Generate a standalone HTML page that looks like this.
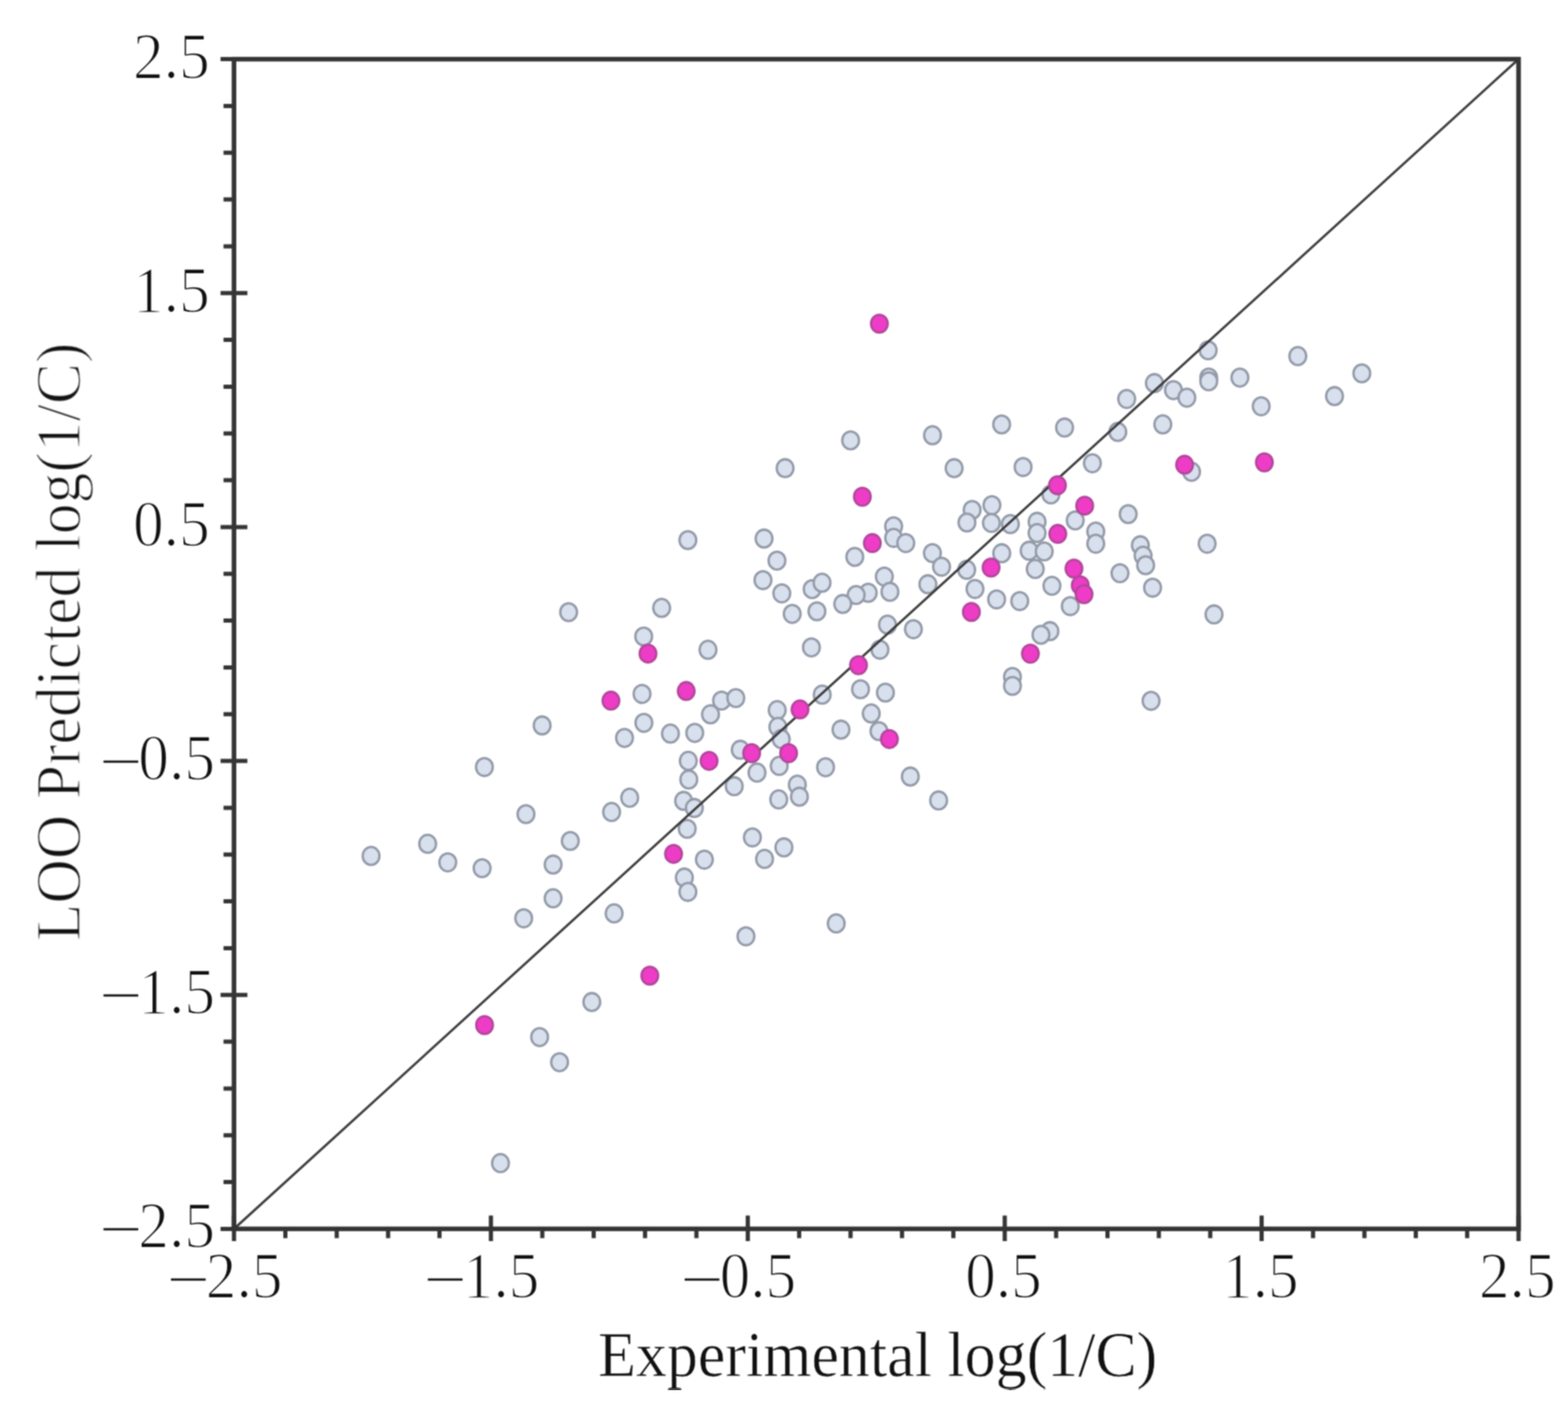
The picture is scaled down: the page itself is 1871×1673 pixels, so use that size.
<!DOCTYPE html>
<html><head><meta charset="utf-8"><title>LOO Predicted vs Experimental log(1/C)</title><style>
html,body{margin:0;padding:0;background:#fff;}
svg{display:block;}
.t{font-family:"Liberation Serif","Times New Roman",serif;font-size:75px;fill:#111;stroke:#fff;stroke-width:1.6px;}
.a{font-family:"Liberation Serif","Times New Roman",serif;font-size:76px;fill:#111;stroke:#fff;stroke-width:0.6px;}
.ay{stroke-width:1.6px;}
</style></head><body>
<svg width="1871" height="1673" viewBox="0 0 1871 1673">
<defs><filter id="soft" x="0" y="0" width="1" height="1" color-interpolation-filters="sRGB"><feConvolveMatrix order="3" kernelMatrix="1 2 1 2 4 2 1 2 1" divisor="16" edgeMode="duplicate"/></filter></defs>
<rect width="1871" height="1673" fill="#fff"/>
<g filter="url(#soft)">
<g fill="#d8e0ee" stroke="#939aa8" stroke-width="2.8"><ellipse cx="1015.0" cy="525.5" rx="10" ry="10.7"/><ellipse cx="1112.7" cy="519.4" rx="10" ry="10.7"/><ellipse cx="1195.2" cy="506.5" rx="10" ry="10.7"/><ellipse cx="936.8" cy="558.7" rx="10" ry="10.7"/><ellipse cx="1138.5" cy="558.7" rx="10" ry="10.7"/><ellipse cx="1220.8" cy="557.3" rx="10" ry="10.7"/><ellipse cx="1441.6" cy="418.0" rx="10" ry="10.7"/><ellipse cx="1548.6" cy="424.9" rx="10" ry="10.7"/><ellipse cx="1625.0" cy="445.5" rx="10" ry="10.7"/><ellipse cx="1442.3" cy="450.5" rx="10" ry="10.7"/><ellipse cx="1442.3" cy="455.0" rx="10" ry="10.7"/><ellipse cx="1479.5" cy="450.6" rx="10" ry="10.7"/><ellipse cx="1377.5" cy="457.2" rx="10" ry="10.7"/><ellipse cx="1400.2" cy="465.6" rx="10" ry="10.7"/><ellipse cx="1416.2" cy="474.6" rx="10" ry="10.7"/><ellipse cx="1344.4" cy="476.1" rx="10" ry="10.7"/><ellipse cx="1592.4" cy="472.7" rx="10" ry="10.7"/><ellipse cx="1504.9" cy="484.8" rx="10" ry="10.7"/><ellipse cx="1270.3" cy="510.2" rx="10" ry="10.7"/><ellipse cx="1387.5" cy="506.4" rx="10" ry="10.7"/><ellipse cx="1333.8" cy="515.4" rx="10" ry="10.7"/><ellipse cx="1303.5" cy="552.8" rx="10" ry="10.7"/><ellipse cx="1421.8" cy="562.9" rx="10" ry="10.7"/><ellipse cx="820.8" cy="644.5" rx="10" ry="10.7"/><ellipse cx="911.7" cy="642.7" rx="10" ry="10.7"/><ellipse cx="927.1" cy="669.0" rx="10" ry="10.7"/><ellipse cx="910.4" cy="692.3" rx="10" ry="10.7"/><ellipse cx="932.9" cy="708.1" rx="10" ry="10.7"/><ellipse cx="945.3" cy="732.6" rx="10" ry="10.7"/><ellipse cx="678.5" cy="730.5" rx="10" ry="10.7"/><ellipse cx="789.5" cy="725.4" rx="10" ry="10.7"/><ellipse cx="768.1" cy="759.5" rx="10" ry="10.7"/><ellipse cx="844.8" cy="775.4" rx="10" ry="10.7"/><ellipse cx="1254.0" cy="590.0" rx="10" ry="10.7"/><ellipse cx="1160.0" cy="608.5" rx="10" ry="10.7"/><ellipse cx="1183.6" cy="602.8" rx="10" ry="10.7"/><ellipse cx="1153.8" cy="623.5" rx="10" ry="10.7"/><ellipse cx="1183.0" cy="624.0" rx="10" ry="10.7"/><ellipse cx="1205.6" cy="625.4" rx="10" ry="10.7"/><ellipse cx="1237.5" cy="622.7" rx="10" ry="10.7"/><ellipse cx="1237.5" cy="636.0" rx="10" ry="10.7"/><ellipse cx="1283.0" cy="621.0" rx="10" ry="10.7"/><ellipse cx="1066.3" cy="628.1" rx="10" ry="10.7"/><ellipse cx="1066.3" cy="641.8" rx="10" ry="10.7"/><ellipse cx="1080.8" cy="648.1" rx="10" ry="10.7"/><ellipse cx="1112.6" cy="660.0" rx="10" ry="10.7"/><ellipse cx="1195.3" cy="660.2" rx="10" ry="10.7"/><ellipse cx="1228.0" cy="657.2" rx="10" ry="10.7"/><ellipse cx="1246.0" cy="658.0" rx="10" ry="10.7"/><ellipse cx="1020.0" cy="664.5" rx="10" ry="10.7"/><ellipse cx="1123.5" cy="676.3" rx="10" ry="10.7"/><ellipse cx="1153.5" cy="679.9" rx="10" ry="10.7"/><ellipse cx="1235.3" cy="678.9" rx="10" ry="10.7"/><ellipse cx="1055.2" cy="688.1" rx="10" ry="10.7"/><ellipse cx="969.1" cy="703.0" rx="10" ry="10.7"/><ellipse cx="980.9" cy="695.4" rx="10" ry="10.7"/><ellipse cx="1107.2" cy="697.2" rx="10" ry="10.7"/><ellipse cx="1255.2" cy="699.0" rx="10" ry="10.7"/><ellipse cx="1163.4" cy="702.8" rx="10" ry="10.7"/><ellipse cx="1036.0" cy="707.4" rx="10" ry="10.7"/><ellipse cx="1021.6" cy="710.0" rx="10" ry="10.7"/><ellipse cx="1005.6" cy="720.7" rx="10" ry="10.7"/><ellipse cx="1061.9" cy="706.2" rx="10" ry="10.7"/><ellipse cx="1189.2" cy="715.3" rx="10" ry="10.7"/><ellipse cx="1216.8" cy="717.3" rx="10" ry="10.7"/><ellipse cx="1277.1" cy="723.3" rx="10" ry="10.7"/><ellipse cx="974.8" cy="729.5" rx="10" ry="10.7"/><ellipse cx="1059.0" cy="745.4" rx="10" ry="10.7"/><ellipse cx="1089.9" cy="750.8" rx="10" ry="10.7"/><ellipse cx="1252.8" cy="753.2" rx="10" ry="10.7"/><ellipse cx="1242.1" cy="757.5" rx="10" ry="10.7"/><ellipse cx="968.2" cy="772.6" rx="10" ry="10.7"/><ellipse cx="1050.0" cy="775.3" rx="10" ry="10.7"/><ellipse cx="1346.2" cy="613.5" rx="10" ry="10.7"/><ellipse cx="1307.5" cy="634.3" rx="10" ry="10.7"/><ellipse cx="1307.5" cy="648.8" rx="10" ry="10.7"/><ellipse cx="1360.7" cy="650.7" rx="10" ry="10.7"/><ellipse cx="1364.0" cy="663.0" rx="10" ry="10.7"/><ellipse cx="1367.0" cy="674.5" rx="10" ry="10.7"/><ellipse cx="1336.4" cy="684.0" rx="10" ry="10.7"/><ellipse cx="1375.3" cy="701.3" rx="10" ry="10.7"/><ellipse cx="1440.4" cy="648.8" rx="10" ry="10.7"/><ellipse cx="1448.6" cy="733.2" rx="10" ry="10.7"/><ellipse cx="1208.1" cy="807.8" rx="10" ry="10.7"/><ellipse cx="1208.1" cy="818.5" rx="10" ry="10.7"/><ellipse cx="1373.5" cy="836.3" rx="10" ry="10.7"/><ellipse cx="766.1" cy="828.1" rx="10" ry="10.7"/><ellipse cx="847.8" cy="852.4" rx="10" ry="10.7"/><ellipse cx="646.9" cy="865.7" rx="10" ry="10.7"/><ellipse cx="768.3" cy="862.6" rx="10" ry="10.7"/><ellipse cx="745.2" cy="880.6" rx="10" ry="10.7"/><ellipse cx="800.0" cy="875.4" rx="10" ry="10.7"/><ellipse cx="829.0" cy="874.6" rx="10" ry="10.7"/><ellipse cx="578.0" cy="915.3" rx="10" ry="10.7"/><ellipse cx="821.3" cy="907.9" rx="10" ry="10.7"/><ellipse cx="821.9" cy="930.2" rx="10" ry="10.7"/><ellipse cx="751.4" cy="951.9" rx="10" ry="10.7"/><ellipse cx="729.8" cy="968.9" rx="10" ry="10.7"/><ellipse cx="627.6" cy="971.5" rx="10" ry="10.7"/><ellipse cx="815.7" cy="955.7" rx="10" ry="10.7"/><ellipse cx="828.5" cy="964.2" rx="10" ry="10.7"/><ellipse cx="981.1" cy="828.9" rx="10" ry="10.7"/><ellipse cx="1026.8" cy="822.5" rx="10" ry="10.7"/><ellipse cx="1056.5" cy="826.5" rx="10" ry="10.7"/><ellipse cx="861.0" cy="836.0" rx="10" ry="10.7"/><ellipse cx="878.0" cy="833.0" rx="10" ry="10.7"/><ellipse cx="927.4" cy="847.4" rx="10" ry="10.7"/><ellipse cx="928.2" cy="867.4" rx="10" ry="10.7"/><ellipse cx="932.2" cy="881.9" rx="10" ry="10.7"/><ellipse cx="1039.6" cy="851.4" rx="10" ry="10.7"/><ellipse cx="1003.5" cy="870.7" rx="10" ry="10.7"/><ellipse cx="1048.8" cy="872.5" rx="10" ry="10.7"/><ellipse cx="883.3" cy="894.7" rx="10" ry="10.7"/><ellipse cx="903.3" cy="921.9" rx="10" ry="10.7"/><ellipse cx="929.8" cy="913.9" rx="10" ry="10.7"/><ellipse cx="985.1" cy="915.6" rx="10" ry="10.7"/><ellipse cx="1086.2" cy="926.7" rx="10" ry="10.7"/><ellipse cx="876.1" cy="938.2" rx="10" ry="10.7"/><ellipse cx="951.4" cy="936.4" rx="10" ry="10.7"/><ellipse cx="953.9" cy="950.7" rx="10" ry="10.7"/><ellipse cx="929.2" cy="953.9" rx="10" ry="10.7"/><ellipse cx="1120.0" cy="955.2" rx="10" ry="10.7"/><ellipse cx="680.5" cy="1003.5" rx="10" ry="10.7"/><ellipse cx="510.3" cy="1006.9" rx="10" ry="10.7"/><ellipse cx="442.8" cy="1021.4" rx="10" ry="10.7"/><ellipse cx="534.3" cy="1029.1" rx="10" ry="10.7"/><ellipse cx="575.3" cy="1036.0" rx="10" ry="10.7"/><ellipse cx="660.0" cy="1031.7" rx="10" ry="10.7"/><ellipse cx="660.0" cy="1071.9" rx="10" ry="10.7"/><ellipse cx="624.9" cy="1095.8" rx="10" ry="10.7"/><ellipse cx="820.0" cy="989.0" rx="10" ry="10.7"/><ellipse cx="897.8" cy="999.3" rx="10" ry="10.7"/><ellipse cx="935.4" cy="1011.2" rx="10" ry="10.7"/><ellipse cx="912.3" cy="1024.9" rx="10" ry="10.7"/><ellipse cx="840.5" cy="1025.8" rx="10" ry="10.7"/><ellipse cx="816.6" cy="1047.2" rx="10" ry="10.7"/><ellipse cx="820.8" cy="1064.3" rx="10" ry="10.7"/><ellipse cx="732.8" cy="1089.9" rx="10" ry="10.7"/><ellipse cx="890.1" cy="1117.3" rx="10" ry="10.7"/><ellipse cx="997.8" cy="1101.9" rx="10" ry="10.7"/><ellipse cx="706.2" cy="1195.7" rx="10" ry="10.7"/><ellipse cx="643.9" cy="1237.6" rx="10" ry="10.7"/><ellipse cx="667.7" cy="1267.6" rx="10" ry="10.7"/><ellipse cx="597.2" cy="1387.9" rx="10" ry="10.7"/></g>
<line x1="279.2" y1="1466.4" x2="1812.0" y2="70.6" stroke="#3a3a3a" stroke-width="2.8"/>
<g fill="#ee3cc6" stroke="#b0479a" stroke-width="2.6"><ellipse cx="1049.3" cy="386.2" rx="10" ry="10.7"/><ellipse cx="1413.5" cy="554.6" rx="10" ry="10.7"/><ellipse cx="1508.7" cy="551.7" rx="10" ry="10.7"/><ellipse cx="1261.8" cy="579.1" rx="10" ry="10.7"/><ellipse cx="773.2" cy="779.9" rx="10" ry="10.7"/><ellipse cx="1029.0" cy="592.7" rx="10" ry="10.7"/><ellipse cx="1040.9" cy="648.1" rx="10" ry="10.7"/><ellipse cx="1262.2" cy="637.1" rx="10" ry="10.7"/><ellipse cx="1182.6" cy="677.2" rx="10" ry="10.7"/><ellipse cx="1159.1" cy="730.2" rx="10" ry="10.7"/><ellipse cx="1229.5" cy="780.0" rx="10" ry="10.7"/><ellipse cx="1294.3" cy="603.4" rx="10" ry="10.7"/><ellipse cx="1281.5" cy="678.5" rx="10" ry="10.7"/><ellipse cx="1289.0" cy="698.5" rx="10" ry="10.7"/><ellipse cx="1293.5" cy="709.0" rx="10" ry="10.7"/><ellipse cx="729.0" cy="836.1" rx="10" ry="10.7"/><ellipse cx="818.8" cy="824.6" rx="10" ry="10.7"/><ellipse cx="846.1" cy="907.9" rx="10" ry="10.7"/><ellipse cx="1024.4" cy="793.7" rx="10" ry="10.7"/><ellipse cx="954.6" cy="846.6" rx="10" ry="10.7"/><ellipse cx="1061.3" cy="881.9" rx="10" ry="10.7"/><ellipse cx="896.9" cy="898.7" rx="10" ry="10.7"/><ellipse cx="941.0" cy="898.7" rx="10" ry="10.7"/><ellipse cx="803.7" cy="1018.9" rx="10" ry="10.7"/><ellipse cx="775.4" cy="1164.2" rx="10" ry="10.7"/><ellipse cx="578.2" cy="1223.2" rx="10" ry="10.7"/></g>
<rect x="279.2" y="70.6" width="1532.8" height="1395.8000000000002" fill="none" stroke="#353535" stroke-width="5.5"/>
<path d="M263.2 1466.4H295.2M279.2 1450.4V1480.9M266.7 1410.6H279.2M340.5 1466.4V1477.4M266.7 1354.7H279.2M401.8 1466.4V1477.4M266.7 1298.9H279.2M463.1 1466.4V1477.4M266.7 1243.1H279.2M524.4 1466.4V1477.4M263.2 1187.2H295.2M585.8 1450.4V1480.9M266.7 1131.4H279.2M647.1 1466.4V1477.4M266.7 1075.6H279.2M708.4 1466.4V1477.4M266.7 1019.7H279.2M769.7 1466.4V1477.4M266.7 963.9H279.2M831.0 1466.4V1477.4M263.2 908.1H295.2M892.3 1450.4V1480.9M266.7 852.2H279.2M953.6 1466.4V1477.4M266.7 796.4H279.2M1014.9 1466.4V1477.4M266.7 740.6H279.2M1076.3 1466.4V1477.4M266.7 684.8H279.2M1137.6 1466.4V1477.4M263.2 628.9H295.2M1198.9 1450.4V1480.9M266.7 573.1H279.2M1260.2 1466.4V1477.4M266.7 517.3H279.2M1321.5 1466.4V1477.4M266.7 461.4H279.2M1382.8 1466.4V1477.4M266.7 405.6H279.2M1444.1 1466.4V1477.4M263.2 349.8H295.2M1505.4 1450.4V1480.9M266.7 293.9H279.2M1566.8 1466.4V1477.4M266.7 238.1H279.2M1628.1 1466.4V1477.4M266.7 182.3H279.2M1689.4 1466.4V1477.4M266.7 126.4H279.2M1750.7 1466.4V1477.4M263.2 70.6H295.2M1812.0 1450.4V1480.9" stroke="#353535" stroke-width="5" fill="none"/>
<text transform="translate(337.0 1548.3) scale(0.975 1.04)" text-anchor="end" class="t"><tspan style="font-size:86px">–</tspan>2.5</text>
<text transform="translate(256.5 1487.9) scale(0.975 1.04)" text-anchor="end" class="t"><tspan style="font-size:86px">–</tspan>2.5</text>
<text transform="translate(643.6 1548.3) scale(0.975 1.04)" text-anchor="end" class="t"><tspan style="font-size:86px">–</tspan>1.5</text>
<text transform="translate(256.5 1208.7) scale(0.975 1.04)" text-anchor="end" class="t"><tspan style="font-size:86px">–</tspan>1.5</text>
<text transform="translate(950.1 1548.3) scale(0.975 1.04)" text-anchor="end" class="t"><tspan style="font-size:86px">–</tspan>0.5</text>
<text transform="translate(256.5 929.6) scale(0.975 1.04)" text-anchor="end" class="t"><tspan style="font-size:86px">–</tspan>0.5</text>
<text transform="translate(1243.1 1548.3) scale(0.975 1.04)" text-anchor="end" class="t">0.5</text>
<text transform="translate(250.2 651.4) scale(0.975 1.04)" text-anchor="end" class="t">0.5</text>
<text transform="translate(1549.6 1548.3) scale(0.975 1.04)" text-anchor="end" class="t">1.5</text>
<text transform="translate(250.2 372.3) scale(0.975 1.04)" text-anchor="end" class="t">1.5</text>
<text transform="translate(1856.2 1548.3) scale(0.975 1.04)" text-anchor="end" class="t">2.5</text>
<text transform="translate(250.2 93.1) scale(0.975 1.04)" text-anchor="end" class="t">2.5</text>
<text transform="translate(1047.3 1641.8) scale(0.973 1)" text-anchor="middle" class="a">Experimental log(1/C)</text>
<text transform="translate(95.2 766) rotate(-90) scale(0.967 1)" text-anchor="middle" class="a ay">LOO Predicted log(1/C)</text>
</g>
</svg>
</body></html>
